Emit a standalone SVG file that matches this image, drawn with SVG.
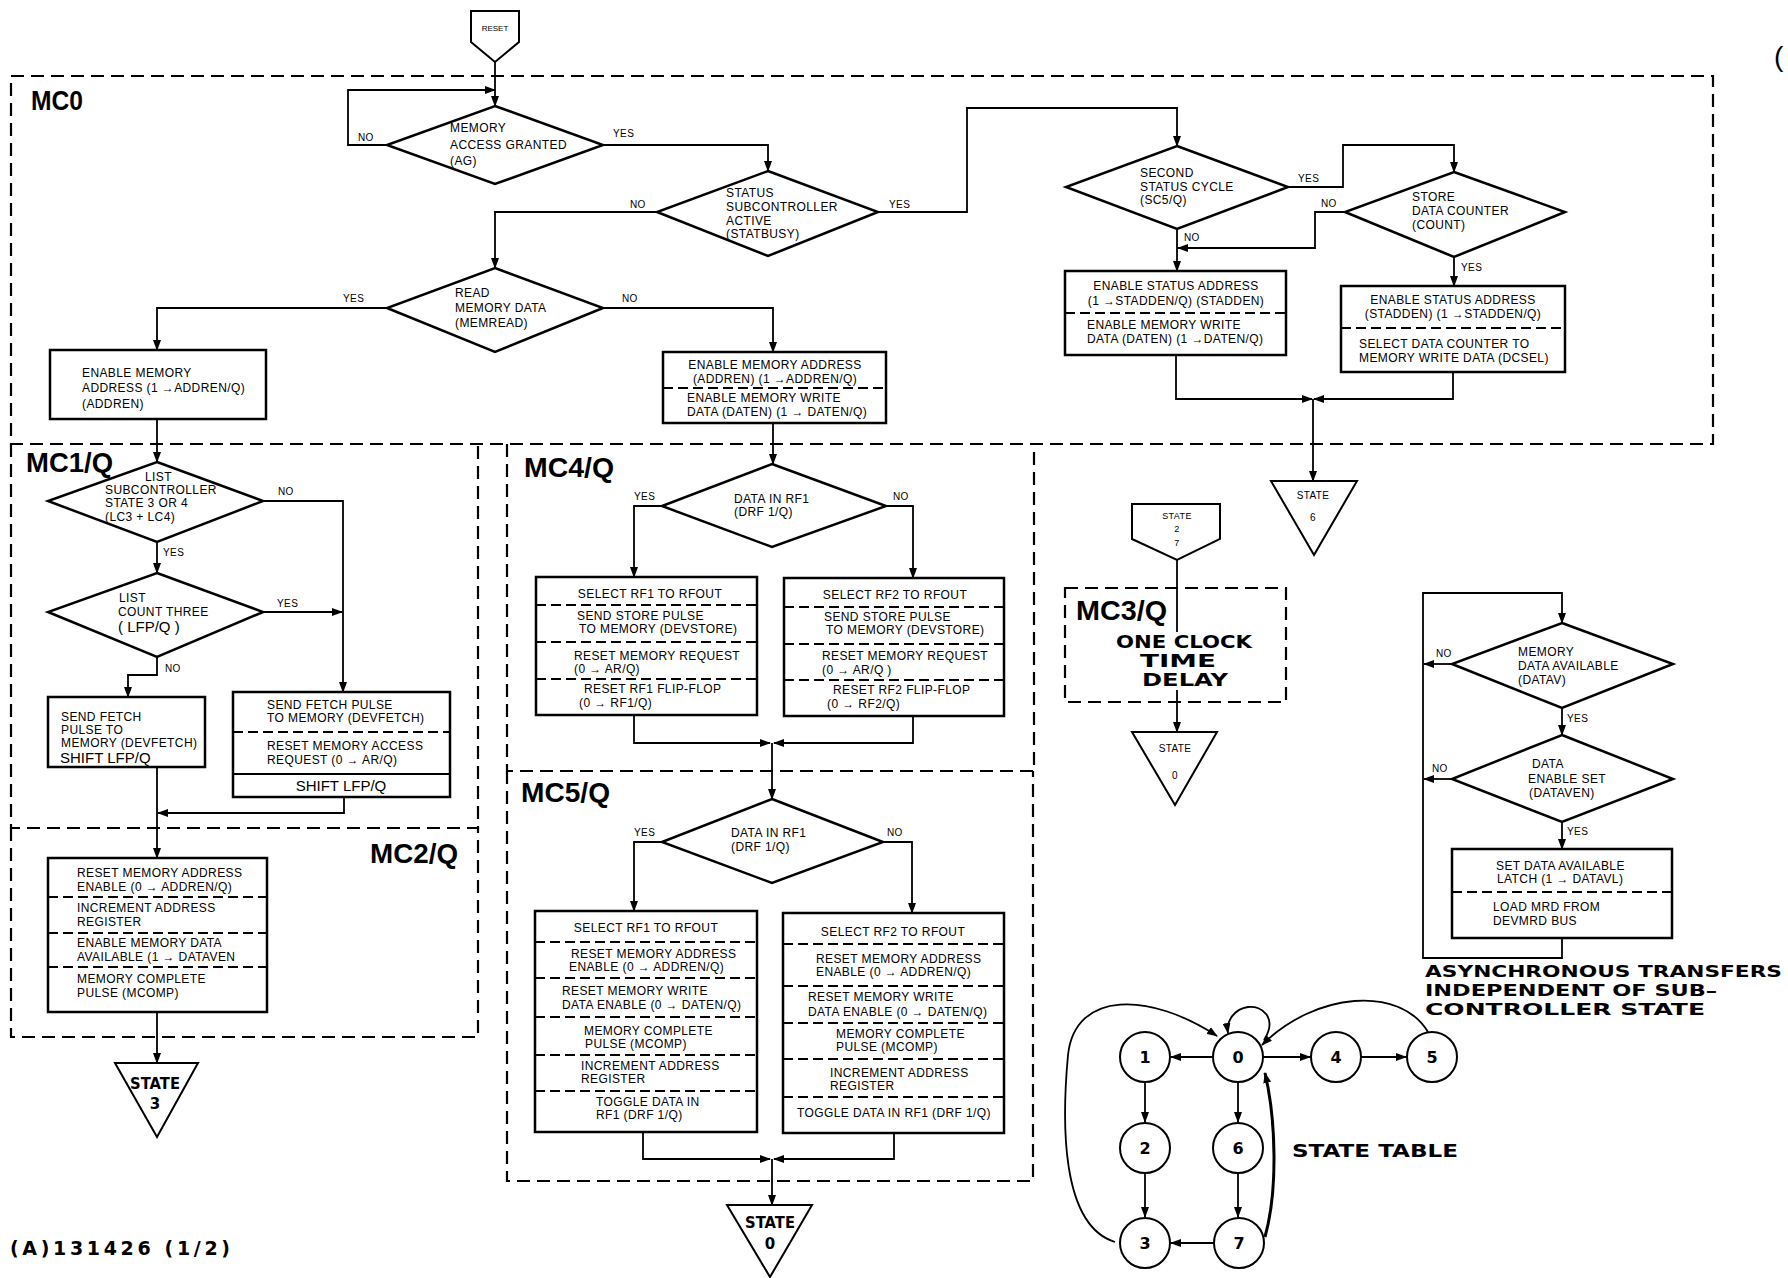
<svg xmlns="http://www.w3.org/2000/svg" width="1788" height="1278" viewBox="0 0 1788 1278">
<defs>
<marker id="a" markerWidth="11" markerHeight="8" refX="10" refY="4" orient="auto" markerUnits="userSpaceOnUse"><path d="M0,0 L11,4 L0,8 z" fill="#000"/></marker>
<style>
.bx{fill:#fff;stroke:#000;stroke-width:2.5}
.ln{fill:none;stroke:#000;stroke-width:1.8}
.ar{fill:none;stroke:#000;stroke-width:1.8;marker-end:url(#a)}
.ds{fill:none;stroke:#000;stroke-width:2.2;stroke-dasharray:13 7}
.dv{stroke:#000;stroke-width:2;stroke-dasharray:10 5}
.t{font-family:"Liberation Sans",Arial,sans-serif;font-size:12px;letter-spacing:0.4px;fill:#000}
.s{font-family:"Liberation Sans",Arial,sans-serif;font-size:10px;letter-spacing:0.4px;fill:#000}
.m{text-anchor:middle}
.lb{font-family:"Liberation Sans",Arial,sans-serif;font-weight:bold;font-size:27px;fill:#000}
.bg{font-family:"DejaVu Sans",sans-serif;font-weight:bold;fill:#000}
.sh{font-family:"Liberation Sans",Arial,sans-serif;font-size:15px;fill:#000}
</style>
</defs>
<rect width="1788" height="1278" fill="#fff"/>

<g id="frames">
<rect class="ds" x="11" y="76" width="1702" height="368"/>
<path class="ds" d="M11,444 V828 H478 V444"/>
<path class="ds" d="M11,828 V1037 H478 V828"/>
<path class="ds" d="M507,444 V771 H1034 V444"/>
<path class="ds" d="M507,771 V1181 H1033 V771"/>
<rect class="ds" x="1065" y="588" width="221" height="114"/>
<text class="lb" x="31" y="110" textLength="52" lengthAdjust="spacingAndGlyphs">MC0</text>
<text class="lb" x="26" y="472" textLength="87" lengthAdjust="spacingAndGlyphs">MC1/Q</text>
<text class="lb" x="370" y="863" textLength="88" lengthAdjust="spacingAndGlyphs">MC2/Q</text>
<text class="lb" x="524" y="477" textLength="90" lengthAdjust="spacingAndGlyphs">MC4/Q</text>
<text class="lb" x="521" y="802" textLength="89" lengthAdjust="spacingAndGlyphs">MC5/Q</text>
<text class="lb" x="1076" y="620" textLength="91" lengthAdjust="spacingAndGlyphs">MC3/Q</text>
</g>

<g id="connectors">
<path class="ar" d="M495,62 V106"/>
<path class="ar" d="M387,145 H348 V90 H495"/>
<path class="ar" d="M603,145 H768 V171"/>
<path class="ar" d="M657,212 H495 V268"/>
<path class="ar" d="M878,212 H967 V108 H1177 V146"/>
<path class="ar" d="M387,308 H157 V350"/>
<path class="ar" d="M603,308 H773 V352"/>
<path class="ar" d="M1288,187 H1343 V145 H1454 V172"/>
<path class="ar" d="M1177,229 V271"/>
<path class="ar" d="M1345,212 H1315 V248 H1178"/>
<path class="ar" d="M1454,257 V286"/>
<path class="ar" d="M1176,355 V399 H1312"/>
<path class="ar" d="M1453,372 V399 H1314"/>
<path class="ar" d="M1313,399 V481"/>
<path class="ar" d="M157,419 V462"/>
<path class="ar" d="M773,423 V464"/>
<path class="ar" d="M263,501 H343 V692"/>
<path class="ar" d="M157,542 V573"/>
<path class="ar" d="M263,612 H342"/>
<path class="ar" d="M157,657 V675 H128 V697"/>
<path class="ar" d="M157,767 V858"/>
<path class="ar" d="M344,797 V813 H158"/>
<path class="ar" d="M157,1012 V1063"/>
<path class="ar" d="M662,506 H634 V577"/>
<path class="ar" d="M886,506 H913 V578"/>
<path class="ar" d="M634,715 V743 H770"/>
<path class="ar" d="M913,716 V743 H774"/>
<path class="ar" d="M772,743 V799"/>
<path class="ar" d="M662,842 H634 V911"/>
<path class="ar" d="M883,842 H912 V913"/>
<path class="ar" d="M643,1132 V1159 H770"/>
<path class="ar" d="M894,1133 V1159 H774"/>
<path class="ar" d="M772,1159 V1205"/>
<path class="ln" d="M1177,560 V632"/>
<path class="ar" d="M1177,690 V732"/>
<path class="ar" d="M1562,938 V958 H1423 V593 H1562 V623"/>
<path class="ar" d="M1452,664 H1424"/>
<path class="ar" d="M1562,708 V735"/>
<path class="ar" d="M1452,779 H1424"/>
<path class="ar" d="M1562,822 V849"/>
<text class="s" x="358" y="141">NO</text>
<text class="s" x="613" y="137">YES</text>
<text class="s" x="630" y="208">NO</text>
<text class="s" x="889" y="208">YES</text>
<text class="s" x="343" y="302">YES</text>
<text class="s" x="622" y="302">NO</text>
<text class="s" x="1298" y="182">YES</text>
<text class="s" x="1184" y="241">NO</text>
<text class="s" x="1321" y="207">NO</text>
<text class="s" x="1461" y="271">YES</text>
<text class="s" x="278" y="495">NO</text>
<text class="s" x="163" y="556">YES</text>
<text class="s" x="277" y="607">YES</text>
<text class="s" x="165" y="672">NO</text>
<text class="s" x="634" y="500">YES</text>
<text class="s" x="893" y="500">NO</text>
<text class="s" x="634" y="836">YES</text>
<text class="s" x="887" y="836">NO</text>
<text class="s" x="1436" y="657">NO</text>
<text class="s" x="1567" y="722">YES</text>
<text class="s" x="1432" y="772">NO</text>
<text class="s" x="1567" y="835">YES</text>
</g>

<g id="reset">
<polygon class="bx" points="471,11 519,11 519,42 495,62 471,42" style="stroke-width:2"/>
<text class="s m" x="495" y="31" style="font-size:8px;letter-spacing:0">RESET</text>
</g>

<g id="d-access">
<polygon class="bx" points="495,106 603,145 495,184 387,145"/>
<text class="t" x="450" y="132">MEMORY</text><text class="t" x="450" y="149">ACCESS GRANTED</text><text class="t" x="450" y="165">(AG)</text>
</g>
<g id="d-status">
<polygon class="bx" points="768,171 878,212 768,256 657,212"/>
<text class="t" x="726" y="197">STATUS</text><text class="t" x="726" y="211">SUBCONTROLLER</text><text class="t" x="726" y="225">ACTIVE</text><text class="t" x="726" y="238">(STATBUSY)</text>
</g>
<g id="d-read">
<polygon class="bx" points="495,268 603,308 495,352 387,308"/>
<text class="t" x="455" y="297">READ</text><text class="t" x="455" y="312">MEMORY DATA</text><text class="t" x="455" y="327">(MEMREAD)</text>
</g>
<g id="d-second">
<polygon class="bx" points="1177,146 1288,187 1177,229 1066,187"/>
<text class="t" x="1140" y="177">SECOND</text><text class="t" x="1140" y="191">STATUS CYCLE</text><text class="t" x="1140" y="204">(SC5/Q)</text>
</g>
<g id="d-store">
<polygon class="bx" points="1454,172 1565,212 1454,257 1345,212"/>
<text class="t" x="1412" y="201">STORE</text><text class="t" x="1412" y="215">DATA COUNTER</text><text class="t" x="1412" y="229">(COUNT)</text>
</g>
<g id="b-addren">
<rect class="bx" x="50" y="350" width="216" height="69"/>
<text class="t" x="82" y="377">ENABLE MEMORY</text><text class="t" x="82" y="392">ADDRESS (1 →ADDREN/Q)</text><text class="t" x="82" y="408">(ADDREN)</text>
</g>
<g id="b-addren-daten">
<rect class="bx" x="663" y="352" width="223" height="71"/>
<line class="dv" x1="663" y1="388" x2="886" y2="388"/>
<text class="t m" x="775" y="369">ENABLE MEMORY ADDRESS</text><text class="t m" x="775" y="383">(ADDREN) (1 →ADDREN/Q)</text>
<text class="t" x="687" y="402">ENABLE MEMORY WRITE</text><text class="t" x="687" y="416">DATA (DATEN) (1 → DATEN/Q)</text>
</g>
<g id="b-stadden-l">
<rect class="bx" x="1065" y="271" width="221" height="84"/>
<line class="dv" x1="1065" y1="313" x2="1286" y2="313"/>
<text class="t m" x="1176" y="290">ENABLE STATUS ADDRESS</text><text class="t m" x="1176" y="305">(1 →STADDEN/Q) (STADDEN)</text>
<text class="t" x="1087" y="329">ENABLE MEMORY WRITE</text><text class="t" x="1087" y="343">DATA (DATEN) (1 →DATEN/Q)</text>
</g>
<g id="b-stadden-r">
<rect class="bx" x="1341" y="286" width="224" height="86"/>
<line class="dv" x1="1341" y1="328" x2="1565" y2="328"/>
<text class="t m" x="1453" y="304">ENABLE STATUS ADDRESS</text><text class="t m" x="1453" y="318">(STADDEN) (1 →STADDEN/Q)</text>
<text class="t" x="1359" y="348">SELECT DATA COUNTER TO</text><text class="t" x="1359" y="362">MEMORY WRITE DATA (DCSEL)</text>
</g>
<g id="state6">
<polygon class="bx" points="1271,481 1357,481 1314,555" style="stroke-width:2"/>
<text class="s m" x="1313" y="499">STATE</text><text class="s m" x="1313" y="521">6</text>
</g>

<g id="d-list">
<polygon class="bx" points="157,462 263,501 157,542 48,501"/>
<text class="t" x="145" y="481">LIST</text><text class="t" x="105" y="494">SUBCONTROLLER</text><text class="t" x="105" y="507">STATE 3 OR 4</text><text class="t" x="105" y="521">(LC3 + LC4)</text>
</g>
<g id="d-count">
<polygon class="bx" points="157,573 263,612 157,657 48,612"/>
<text class="t" x="119" y="602">LIST</text><text class="t" x="118" y="616">COUNT THREE</text><text class="sh" x="118" y="632">( LFP/Q )</text>
</g>
<g id="b-fetch-l">
<rect class="bx" x="48" y="697" width="157" height="70"/>
<text class="t" x="61" y="721">SEND FETCH</text><text class="t" x="61" y="734">PULSE TO</text><text class="t" x="61" y="747">MEMORY (DEVFETCH)</text><text class="sh" x="60" y="763">SHIFT LFP/Q</text>
</g>
<g id="b-fetch-r">
<rect class="bx" x="233" y="692" width="217" height="105"/>
<line class="dv" x1="233" y1="732" x2="450" y2="732"/>
<line x1="233" y1="774" x2="450" y2="774" stroke="#000" stroke-width="2"/>
<text class="t" x="267" y="709">SEND FETCH PULSE</text><text class="t" x="267" y="722">TO MEMORY (DEVFETCH)</text>
<text class="t" x="267" y="750">RESET MEMORY ACCESS</text><text class="t" x="267" y="764">REQUEST (0 → AR/Q)</text>
<text class="sh m" x="341" y="791">SHIFT LFP/Q</text>
</g>
<g id="b-mc2">
<rect class="bx" x="48" y="858" width="219" height="154"/>
<line class="dv" x1="48" y1="897" x2="267" y2="897"/>
<line class="dv" x1="48" y1="933" x2="267" y2="933"/>
<line class="dv" x1="48" y1="967" x2="267" y2="967"/>
<text class="t" x="77" y="877">RESET MEMORY ADDRESS</text><text class="t" x="77" y="891">ENABLE (0 → ADDREN/Q)</text>
<text class="t" x="77" y="912">INCREMENT ADDRESS</text><text class="t" x="77" y="926">REGISTER</text>
<text class="t" x="77" y="947">ENABLE MEMORY DATA</text><text class="t" x="77" y="961">AVAILABLE (1 → DATAVEN</text>
<text class="t" x="77" y="983">MEMORY COMPLETE</text><text class="t" x="77" y="997">PULSE (MCOMP)</text>
</g>
<g id="state3">
<polygon class="bx" points="115,1063 198,1063 157,1137" style="stroke-width:2"/>
<text class="bg m" x="155" y="1089" style="font-size:15px" textLength="50" lengthAdjust="spacingAndGlyphs">STATE</text>
<text class="bg m" x="155" y="1109" style="font-size:15px">3</text>
</g>

<g id="d-mc4">
<polygon class="bx" points="772,464 886,506 772,547 662,506"/>
<text class="t" x="734" y="503">DATA IN RF1</text><text class="t" x="734" y="516">(DRF 1/Q)</text>
</g>
<g id="b-mc4-l">
<rect class="bx" x="536" y="577" width="221" height="138"/>
<line class="dv" x1="536" y1="605" x2="757" y2="605"/>
<line class="dv" x1="536" y1="642" x2="757" y2="642"/>
<line class="dv" x1="536" y1="679" x2="757" y2="679"/>
<text class="t m" x="650" y="598">SELECT RF1 TO RFOUT</text>
<text class="t" x="577" y="620">SEND STORE PULSE</text><text class="t" x="579" y="633">TO MEMORY (DEVSTORE)</text>
<text class="t" x="574" y="660">RESET MEMORY REQUEST</text><text class="t" x="574" y="673">(0 → AR/Q)</text>
<text class="t" x="584" y="693">RESET RF1 FLIP-FLOP</text><text class="t" x="579" y="707">(0 → RF1/Q)</text>
</g>
<g id="b-mc4-r">
<rect class="bx" x="784" y="578" width="220" height="138"/>
<line class="dv" x1="784" y1="607" x2="1004" y2="607"/>
<line class="dv" x1="784" y1="644" x2="1004" y2="644"/>
<line class="dv" x1="784" y1="680" x2="1004" y2="680"/>
<text class="t m" x="895" y="599">SELECT RF2 TO RFOUT</text>
<text class="t" x="824" y="621">SEND STORE PULSE</text><text class="t" x="826" y="634">TO MEMORY (DEVSTORE)</text>
<text class="t" x="822" y="660">RESET MEMORY REQUEST</text><text class="t" x="822" y="674">(0 → AR/Q )</text>
<text class="t" x="833" y="694">RESET RF2 FLIP-FLOP</text><text class="t" x="827" y="708">(0 → RF2/Q)</text>
</g>

<g id="d-mc5">
<polygon class="bx" points="772,799 883,842 772,883 662,842"/>
<text class="t" x="731" y="837">DATA IN RF1</text><text class="t" x="731" y="851">(DRF 1/Q)</text>
</g>
<g id="b-mc5-l">
<rect class="bx" x="535" y="911" width="222" height="221"/>
<line class="dv" x1="535" y1="942" x2="757" y2="942"/>
<line class="dv" x1="535" y1="978" x2="757" y2="978"/>
<line class="dv" x1="535" y1="1017" x2="757" y2="1017"/>
<line class="dv" x1="535" y1="1055" x2="757" y2="1055"/>
<line class="dv" x1="535" y1="1091" x2="757" y2="1091"/>
<text class="t m" x="646" y="932">SELECT RF1 TO RFOUT</text>
<text class="t" x="571" y="958">RESET MEMORY ADDRESS</text><text class="t" x="569" y="971">ENABLE (0 → ADDREN/Q)</text>
<text class="t" x="562" y="995">RESET MEMORY WRITE</text><text class="t" x="562" y="1009">DATA ENABLE (0 → DATEN/Q)</text>
<text class="t" x="584" y="1035">MEMORY COMPLETE</text><text class="t" x="585" y="1048">PULSE (MCOMP)</text>
<text class="t" x="581" y="1070">INCREMENT ADDRESS</text><text class="t" x="581" y="1083">REGISTER</text>
<text class="t" x="596" y="1106">TOGGLE DATA IN</text><text class="t" x="596" y="1119">RF1 (DRF 1/Q)</text>
</g>
<g id="b-mc5-r">
<rect class="bx" x="783" y="913" width="221" height="220"/>
<line class="dv" x1="783" y1="944" x2="1004" y2="944"/>
<line class="dv" x1="783" y1="986" x2="1004" y2="986"/>
<line class="dv" x1="783" y1="1023" x2="1004" y2="1023"/>
<line class="dv" x1="783" y1="1059" x2="1004" y2="1059"/>
<line class="dv" x1="783" y1="1097" x2="1004" y2="1097"/>
<text class="t m" x="893" y="936">SELECT RF2 TO RFOUT</text>
<text class="t" x="816" y="963">RESET MEMORY ADDRESS</text><text class="t" x="816" y="976">ENABLE (0 → ADDREN/Q)</text>
<text class="t" x="808" y="1001">RESET MEMORY WRITE</text><text class="t" x="808" y="1016">DATA ENABLE (0 → DATEN/Q)</text>
<text class="t" x="836" y="1038">MEMORY COMPLETE</text><text class="t" x="836" y="1051">PULSE (MCOMP)</text>
<text class="t" x="830" y="1077">INCREMENT ADDRESS</text><text class="t" x="830" y="1090">REGISTER</text>
<text class="t m" x="894" y="1117">TOGGLE DATA IN RF1 (DRF 1/Q)</text>
</g>
<g id="state0-mc5">
<polygon class="bx" points="727,1205 812,1205 770,1277" style="stroke-width:2"/>
<text class="bg m" x="770" y="1228" style="font-size:15px" textLength="50" lengthAdjust="spacingAndGlyphs">STATE</text>
<text class="bg m" x="770" y="1249" style="font-size:15px">0</text>
</g>

<g id="state27">
<polygon class="bx" points="1132,504 1220,504 1220,539 1177,560 1132,539" style="stroke-width:2"/>
<text class="s m" x="1177" y="519" style="font-size:9px">STATE</text>
<text class="s m" x="1177" y="532" style="font-size:9px">2</text>
<text class="s m" x="1177" y="546" style="font-size:9px">7</text>
</g>
<g id="mc3-delay">
<text class="bg m" x="1184" y="648" style="font-size:18px" textLength="136" lengthAdjust="spacingAndGlyphs">ONE CLOCK</text>
<text class="bg m" x="1178" y="667" style="font-size:18px" textLength="76" lengthAdjust="spacingAndGlyphs">TIME</text>
<text class="bg m" x="1185" y="686" style="font-size:18px" textLength="86" lengthAdjust="spacingAndGlyphs">DELAY</text>
</g>
<g id="state0-mc3">
<polygon class="bx" points="1132,732 1217,732 1175,805" style="stroke-width:2"/>
<text class="s m" x="1175" y="752">STATE</text><text class="s m" x="1175" y="779">0</text>
</g>

<g id="d-datav">
<polygon class="bx" points="1562,623 1673,664 1562,708 1452,664"/>
<text class="t" x="1518" y="656">MEMORY</text><text class="t" x="1518" y="670">DATA AVAILABLE</text><text class="t" x="1518" y="684">(DATAV)</text>
</g>
<g id="d-dataven">
<polygon class="bx" points="1562,735 1673,779 1562,822 1452,779"/>
<text class="t" x="1532" y="768">DATA</text><text class="t" x="1528" y="783">ENABLE SET</text><text class="t" x="1529" y="797">(DATAVEN)</text>
</g>
<g id="b-datavl">
<rect class="bx" x="1452" y="849" width="220" height="89"/>
<line class="dv" x1="1452" y1="892" x2="1672" y2="892"/>
<text class="t" x="1496" y="870">SET DATA AVAILABLE</text><text class="t" x="1497" y="883">LATCH (1 → DATAVL)</text>
<text class="t" x="1493" y="911">LOAD MRD FROM</text><text class="t" x="1493" y="925">DEVMRD BUS</text>
</g>
<g id="async-title">
<text class="bg" x="1425" y="977" style="font-size:16px" textLength="357" lengthAdjust="spacingAndGlyphs">ASYNCHRONOUS TRANSFERS</text>
<text class="bg" x="1425" y="996" style="font-size:16px" textLength="292" lengthAdjust="spacingAndGlyphs">INDEPENDENT OF SUB–</text>
<text class="bg" x="1425" y="1015" style="font-size:16px" textLength="280" lengthAdjust="spacingAndGlyphs">CONTROLLER STATE</text>
</g>

<g id="state-table">
<g fill="#fff" stroke="#000" stroke-width="2">
<circle id="s0" cx="1238" cy="1057" r="25"/>
<circle id="s1" cx="1145" cy="1057" r="25"/>
<circle id="s4" cx="1336" cy="1057" r="25"/>
<circle id="s5" cx="1432" cy="1057" r="25"/>
<circle id="s2" cx="1145" cy="1148" r="25"/>
<circle id="s6" cx="1238" cy="1148" r="25"/>
<circle id="s3" cx="1145" cy="1243" r="25"/>
<circle id="s7" cx="1239" cy="1243" r="25"/>
</g>
<g class="bg" style="font-size:16px" text-anchor="middle">
<text x="1238" y="1063">0</text><text x="1145" y="1063">1</text><text x="1336" y="1063">4</text><text x="1432" y="1063">5</text>
<text x="1145" y="1154">2</text><text x="1238" y="1154">6</text><text x="1145" y="1249">3</text><text x="1239" y="1249">7</text>
</g>
<path class="ar" d="M1213,1057 H1171"/>
<path class="ar" d="M1263,1057 H1310"/>
<path class="ar" d="M1361,1057 H1406"/>
<path class="ar" d="M1145,1082 V1122"/>
<path class="ar" d="M1145,1173 V1217"/>
<path class="ar" d="M1238,1082 V1122"/>
<path class="ar" d="M1238,1173 V1217"/>
<path class="ar" d="M1214,1243 H1171"/>
<path class="ar" d="M1265,1237 C1278,1190 1276,1120 1265,1073" style="stroke-width:3"/>
<path class="ar" d="M1115,1242 C1060,1225 1062,1120 1068,1055 C1075,990 1150,992 1217,1036"/>
<path class="ar" d="M1428,1032 C1400,985 1315,992 1262,1045"/>
<path class="ar" d="M1264,1040 C1278,1018 1262,1005 1248,1007 C1235,1009 1226,1020 1228,1033"/>
<text class="bg" x="1292" y="1157" style="font-size:17px" textLength="166" lengthAdjust="spacingAndGlyphs">STATE TABLE</text>
</g>

<text class="bg" x="10" y="1255" style="font-size:19px" textLength="220" lengthAdjust="spacing">(A)131426 (1/2)</text>
<text x="1774" y="66" style="font-family:'Liberation Sans',sans-serif;font-size:28px">(</text>
</svg>
